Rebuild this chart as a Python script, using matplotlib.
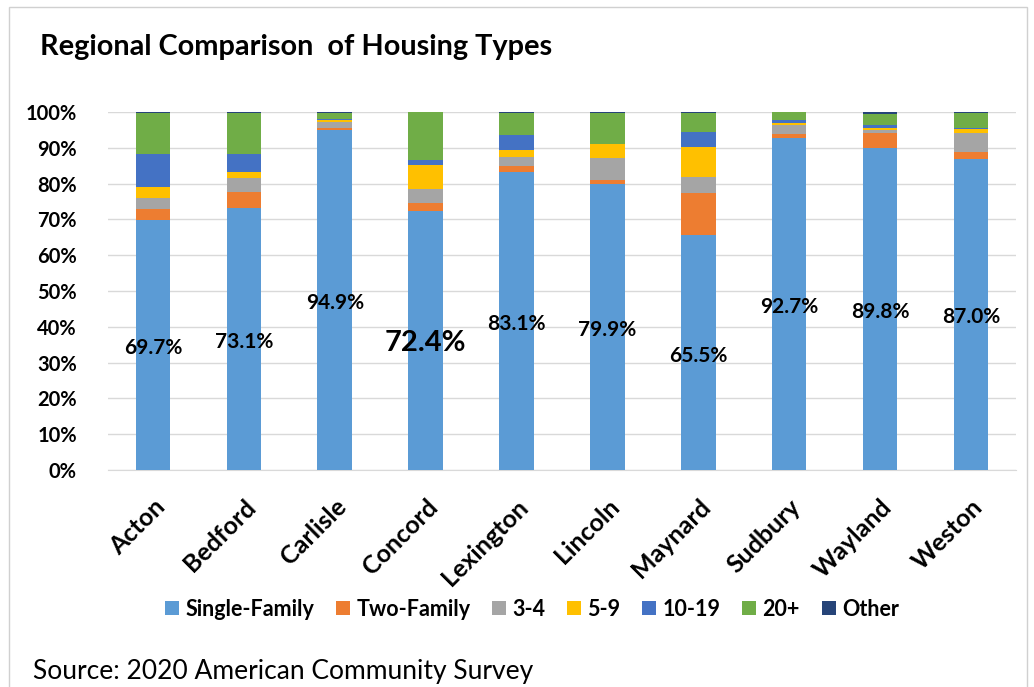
import matplotlib
matplotlib.use("Agg")
import matplotlib.pyplot as plt
from matplotlib.patches import Rectangle
import numpy as np

plt.rcParams['font.family'] = ['Lato', 'DejaVu Sans']

towns = ['Acton', 'Bedford', 'Carlisle', 'Concord', 'Lexington',
         'Lincoln', 'Maynard', 'Sudbury', 'Wayland', 'Weston']

# share of housing units (%) by structure type
single_family = [69.7, 73.1, 94.9, 72.4, 83.1, 79.9, 65.5, 92.7, 89.8, 87.0]
two_family = [3.3, 4.5, 0.5, 2.1, 1.9, 1.2, 11.8, 1.2, 4.2, 1.9]
units_3_4 = [3.0, 4.0, 1.8, 3.9, 2.3, 6.0, 4.6, 2.4, 0.9, 5.1]
units_5_9 = [3.0, 1.7, 0.5, 6.8, 2.0, 4.0, 8.4, 0.7, 0.6, 1.2]
units_10_19 = [9.4, 5.0, 0.3, 1.4, 4.4, 0.0, 4.2, 0.7, 0.9, 0.4]
units_20_plus = [11.3, 11.5, 1.8, 13.4, 6.0, 8.6, 5.2, 2.2, 3.0, 4.2]
other = [0.3, 0.2, 0.2, 0.0, 0.3, 0.3, 0.3, 0.1, 0.6, 0.2]

series_names = ['Single-Family', 'Two-Family', '3-4', '5-9', '10-19', '20+', 'Other']
series_colors = ['#5B9BD5', '#ED7D31', '#A5A5A5', '#FFC000', '#4472C4', '#70AD47', '#264478']

fig = plt.figure(figsize=(10.34, 6.87), dpi=100)
ax = fig.add_axes([0.104, 0.316, 0.879, 0.521])

x = np.arange(len(towns))
bottom = np.zeros(len(towns))
all_series = [single_family, two_family, units_3_4, units_5_9,
              units_10_19, units_20_plus, other]
for name, vals, col in zip(series_names, all_series, series_colors):
    vals = np.array(vals)
    ax.bar(x, vals, 0.38, bottom=bottom, color=col, label=name, zorder=3)
    bottom += vals

# value labels for single-family share
for i, v in enumerate(single_family):
    size = 21 if towns[i] == 'Concord' else 15
    ax.text(i, v / 2 - 0.8, f'{v:.1f}%', ha='center', va='center',
            fontsize=size, fontweight='bold', color='black', zorder=4)

ax.set_xlim(-0.5, len(towns) - 0.5)
ax.set_ylim(0, 100)
ax.set_yticks(np.arange(0, 101, 10))
ax.set_yticklabels([f'{t}%' for t in range(0, 101, 10)])
ax.yaxis.grid(True, color='#D9D9D9', linewidth=1, zorder=0)
ax.set_axisbelow(True)
for s in ['top', 'right', 'left']:
    ax.spines[s].set_visible(False)
ax.spines['bottom'].set_color('#D9D9D9')
ax.tick_params(axis='y', length=0, pad=22, labelsize=14.5)
ax.tick_params(axis='x', length=0, pad=18, labelsize=18)
for lbl in ax.get_yticklabels():
    lbl.set_fontweight('bold')
ax.set_xticks(x)
ax.set_xticklabels(towns, rotation=45, ha='right', rotation_mode='anchor',
                   fontweight='bold')

fig.text(40 / 1034, 1 - 47 / 687, 'Regional Comparison  of Housing Types',
         fontsize=20.8, fontweight='bold', va='center', ha='left')

fig.legend(loc='center', bbox_to_anchor=(532 / 1034, 1 - 609 / 687), ncol=7,
           frameon=False, handlelength=0.65, handleheight=0.65, handletextpad=0.3,
           columnspacing=1.0, prop={'weight': 'bold', 'size': 15.5})

fig.text(33 / 1034, 1 - 671 / 687, 'Source: 2020 American Community Survey',
         fontsize=19, va='center', ha='left')

fig.patches.append(Rectangle((9 / 1034, -0.05), 1018 / 1034, 1.05 - 7 / 687,
                             transform=fig.transFigure, fill=False,
                             edgecolor='#D0D0D0', linewidth=1))

fig.savefig('out.png', dpi=100)
